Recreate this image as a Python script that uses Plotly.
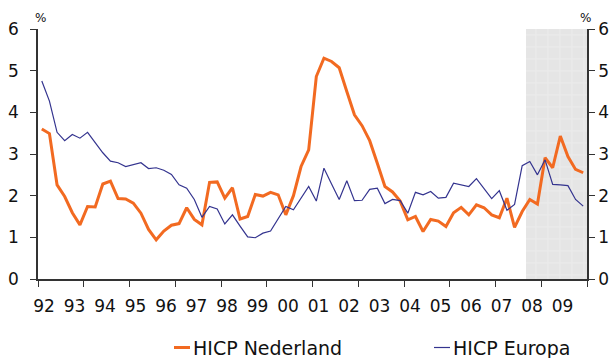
import plotly.graph_objects as go

# Quarterly inflation (HICP, % year-on-year), 1992 Q1 - 2009 Q4
years = list(range(1992, 2010))
quarters = [f"{y}Q{q}" for y in years for q in range(1, 5)]

hicp_nl = [
    3.60, 3.49, 2.26, 1.98, 1.59, 1.30, 1.74, 1.73, 2.28, 2.35, 1.93, 1.92,
    1.82, 1.58, 1.19, 0.94, 1.15, 1.29, 1.33, 1.71, 1.43, 1.30, 2.32, 2.33,
    1.94, 2.19, 1.44, 1.50, 2.03, 1.99, 2.08, 2.02, 1.54, 2.00, 2.70, 3.10,
    4.86, 5.30, 5.22, 5.07, 4.50, 3.94, 3.68, 3.32, 2.78, 2.22, 2.09, 1.87,
    1.42, 1.50, 1.14, 1.43, 1.39, 1.26, 1.59, 1.72, 1.54, 1.78, 1.71, 1.54,
    1.47, 1.94, 1.24, 1.62, 1.91, 1.80, 2.91, 2.67, 3.43, 2.94, 2.63, 2.55,
]
hicp_eu = [
    4.75, 4.27, 3.52, 3.32, 3.47, 3.38, 3.52, 3.27, 3.03, 2.83, 2.79, 2.70,
    2.74, 2.79, 2.65, 2.67, 2.61, 2.51, 2.26, 2.18, 1.91, 1.48, 1.74, 1.68,
    1.32, 1.54, 1.27, 1.01, 0.99, 1.10, 1.15, 1.43, 1.74, 1.66, 1.94, 2.22,
    1.87, 2.66, 2.28, 1.91, 2.36, 1.88, 1.89, 2.15, 2.18, 1.81, 1.91, 1.88,
    1.58, 2.08, 2.02, 2.10, 1.94, 1.96, 2.30, 2.26, 2.22, 2.41, 2.18, 1.93,
    2.12, 1.65, 1.79, 2.72, 2.82, 2.50, 2.86, 2.27, 2.26, 2.24, 1.91, 1.75,
]
year_labels = ["92", "93", "94", "95", "96", "97", "98", "99", "00",
               "01", "02", "03", "04", "05", "06", "07", "08", "09"]
forecast_start, forecast_end = 2008, 2010

ORANGE = "#F26A21"
BLUE = "#34348F"
AXIS = "#333333"
FONT = "DejaVu Sans"


def quarter_pos(label):
    y, q = label.split("Q")
    return int(y) + (int(q) - 0.5) / 4


x = [quarter_pos(q) for q in quarters]

fig = go.Figure()

# shaded forecast period with a fine light grid
fig.add_trace(go.Bar(
    x=[(forecast_start + forecast_end) / 2], y=[6], base=0,
    width=[forecast_end - forecast_start],
    marker=dict(color="#e5e5e5", line=dict(width=0),
                pattern=dict(shape="+", fgcolor="#f5f5f5", bgcolor="#e5e5e5",
                             size=12, solidity=0.12)),
    hoverinfo="skip", showlegend=False,
))

fig.add_trace(go.Scatter(x=x, y=hicp_nl, mode="lines", name="HICP Nederland",
                         line=dict(color=ORANGE, width=3), showlegend=False))
# the Europe series sits on the overlaying axes (year labels, right-hand scale)
fig.add_trace(go.Scatter(x=x, y=hicp_eu, mode="lines", name="HICP Europa",
                         xaxis="x2", yaxis="y2",
                         line=dict(color=BLUE, width=1.2), showlegend=False))

yaxis_common = dict(range=[0, 6], tickvals=list(range(7)), ticks="outside",
                    ticklen=6, tickcolor=AXIS, tickwidth=1.3, showline=True,
                    linecolor=AXIS, linewidth=1.5, showgrid=False, zeroline=False,
                    tickfont=dict(family=FONT, size=17, color="#111"),
                    fixedrange=True, automargin=False)

fig.update_layout(
    width=614, height=358,
    margin=dict(l=38, r=27, t=29, b=79),
    paper_bgcolor="white", plot_bgcolor="white",
    font=dict(family=FONT, color="#111"),
    barmode="overlay",
    xaxis=dict(range=[1992, 2010], tickvals=[1992 + 1.5 * k for k in range(13)],
               ticktext=[""] * 13, ticks="outside", ticklen=6, tickcolor=AXIS,
               tickwidth=1.3, showline=True, linecolor=AXIS, linewidth=1.5,
               showgrid=False, zeroline=False, automargin=False),
    xaxis2=dict(overlaying="x", anchor="y2", side="bottom", range=[1992, 2010],
                tickvals=[y + 0.2 for y in years], ticktext=year_labels,
                ticks="outside", ticklen=12, tickcolor="rgba(0,0,0,0)",
                showline=False, showgrid=False, zeroline=False, automargin=False,
                tickfont=dict(family=FONT, size=17, color="#111")),
    yaxis=dict(**yaxis_common, ticklabelstandoff=8),
    yaxis2=dict(**yaxis_common, overlaying="y", side="right", anchor="x2"),
)

# unit labels above both value axes
for xp in (0.0046, 0.9964):
    fig.add_annotation(x=xp, y=1.044, xref="paper", yref="paper", text="%",
                       showarrow=False, xanchor="center", yanchor="middle",
                       font=dict(family=FONT, size=12, color="#111"))

# legend below the chart
legend_y = -0.274
legend_items = [("HICP Nederland", ORANGE, 3, 174), ("HICP Europa", BLUE, 1.2, 434)]
for name, color, width, px in legend_items:
    x0 = (px - 38) / 549
    x1 = (px + 16 - 38) / 549
    fig.add_shape(type="line", xref="paper", yref="paper", x0=x0, x1=x1,
                  y0=legend_y, y1=legend_y, line=dict(color=color, width=width))
    fig.add_annotation(x=(px + 17 - 38) / 549, y=legend_y, xref="paper", yref="paper",
                       text=name, showarrow=False, xanchor="left", yanchor="middle",
                       font=dict(family=FONT, size=19, color="#111"))

fig.write_html("out.html")
